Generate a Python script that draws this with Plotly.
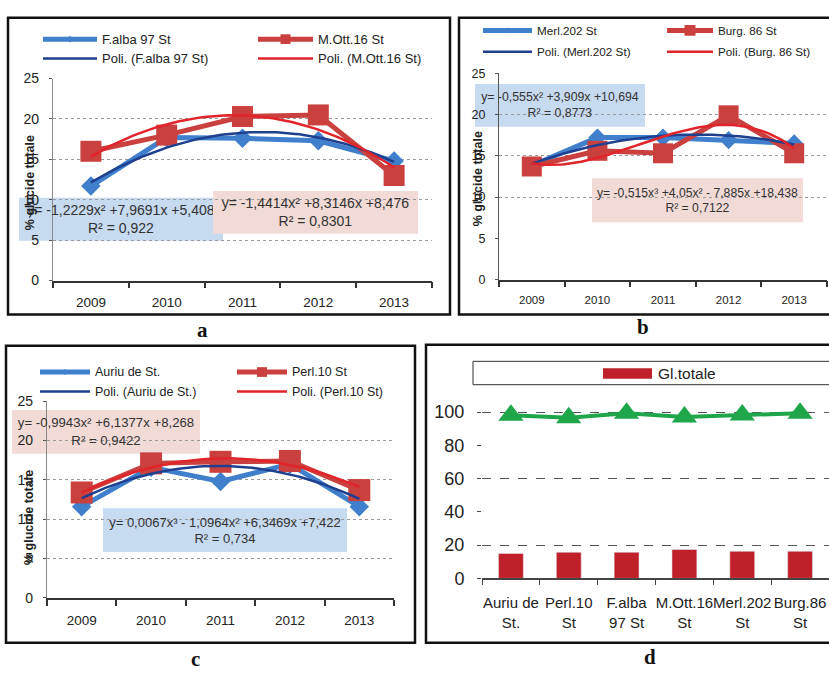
import numpy as np
import plotly.graph_objects as go

W, H = 829, 676

years = ["2009", "2010", "2011", "2012", "2013"]

# % total sugars per year
falba_97 = [11.7, 17.7, 17.6, 17.3, 14.8]
mott_16 = [16.0, 18.0, 20.3, 20.5, 13.0]
merl_202 = [13.8, 17.2, 17.2, 16.9, 16.5]
burg_86 = [13.7, 15.6, 15.3, 19.9, 15.3]
auriu = [11.6, 16.6, 14.8, 17.0, 11.6]
perl_10 = [13.4, 17.1, 17.3, 17.4, 13.7]

# polynomial trend coefficients (highest power first) and R²
fit_falba, r2_falba = [-1.2229, 7.9691, 5.408], 0.922
fit_mott, r2_mott = [-1.4414, 8.3146, 8.476], 0.8301
fit_merl, r2_merl = [-0.555, 3.909, 10.694], 0.8773
fit_burg, r2_burg = [-0.515, 4.05, -7.885, 18.438], 0.7122
fit_perl, r2_perl = [-0.9943, 6.1377, 8.268], 0.9422
fit_auriu, r2_auriu = [0.0067, -1.0964, 6.3469, 7.422], 0.734

# cultivar summary
cultivars = ["Auriu de<br>St.", "Perl.10<br>St", "F.alba<br>97 St",
             "M.Ott.16<br>St", "Merl.202<br>St", "Burg.86<br>St"]
gl_totale = [15.0, 15.7, 15.7, 17.4, 16.3, 16.3]
upper_series = [98.0, 96.5, 99.3, 97.0, 98.2, 99.3]
d_ticks = [0, 20, 40, 60, 80, 100]
line_ticks = [0, 5, 10, 15, 20, 25]

FONT = "Liberation Sans, Arial, sans-serif"
BLUE = "#3F7FCB"
RED = "#C9403F"
TBLUE = "#1F3F8F"
TRED = "#E0242A"
BOX_BLUE = "#C6DAF0"
BOX_PINK = "#F2DAD7"
GREEN = "#1FA64A"
BAR = "#C0202A"


def px(x):
    return x / W


def py(y):
    return 1 - y / H


def sup(n):
    return {3: "³", 2: "²", 1: "", 0: ""}[n]


def num(v):
    return ("%g" % v).replace(".", ",")


def equation(coefs):
    deg = len(coefs) - 1
    parts = []
    for i, c in enumerate(coefs):
        p = deg - i
        term = num(abs(c)) + ("x" if p > 0 else "") + sup(p)
        if i == 0:
            parts.append("y= " + ("-" if c < 0 else "") + term)
        else:
            parts.append((" +" if c >= 0 else " - ") + term)
    return "".join(parts)


fig = go.Figure()
shapes = []
annotations = []
xs = list(range(1, 6))
xfit = np.linspace(1, 5, 81)


def add_line_panel(n, s1, s2, f1, f2, dsize=14, ssize=20):
    xa, ya = ("x%d" % n, "y%d" % n) if n > 1 else ("x", "y")
    fig.add_trace(go.Scatter(x=xs, y=s1, mode="lines+markers", xaxis=xa, yaxis=ya,
                             line=dict(color=BLUE, width=5),
                             marker=dict(symbol="diamond", size=dsize, color=BLUE),
                             showlegend=False, cliponaxis=False))
    fig.add_trace(go.Scatter(x=xs, y=s2, mode="lines+markers", xaxis=xa, yaxis=ya,
                             line=dict(color=RED, width=5),
                             marker=dict(symbol="square", size=ssize, color=RED),
                             showlegend=False, cliponaxis=False))
    fig.add_trace(go.Scatter(x=xfit, y=np.polyval(f1, xfit), mode="lines", xaxis=xa, yaxis=ya,
                             line=dict(color=TBLUE, width=2.5), showlegend=False))
    fig.add_trace(go.Scatter(x=xfit, y=np.polyval(f2, xfit), mode="lines", xaxis=xa, yaxis=ya,
                             line=dict(color=TRED, width=2.5), showlegend=False))


def line_axes(left, right, y0, y25, tick_size, ytick_size, ylinecolor, grid_vals):
    xa = dict(domain=[px(left), px(right)], range=[0.5, 5.5], tickmode="array",
              tickvals=xs, ticktext=years, ticks="", showgrid=False, zeroline=False,
              showline=True, linecolor="#333", linewidth=1.5,
              tickfont=dict(size=tick_size, color="#222"), ticklabelstandoff=9,
              minor=dict(tickmode="array", tickvals=[0.5, 1.5, 2.5, 3.5, 4.5, 5.5],
                         ticks="outside", ticklen=6, tickcolor="#333", tickwidth=1.5,
                         showgrid=False))
    ya = dict(domain=[py(y0), py(y25)], range=[0, 25], tickmode="array",
              tickvals=line_ticks, ticks="outside", ticklen=3, tickcolor="#555",
              showgrid=False, zeroline=False, showline=True, linecolor=ylinecolor,
              linewidth=1.2, tickfont=dict(size=ytick_size, color="#222"),
              ticklabelstandoff=7,
              minor=dict(tickmode="array", tickvals=grid_vals, showgrid=True,
                         griddash="dot", gridcolor="#9A9A9A", gridwidth=1, ticks=""))
    return xa, ya


def box(x0, y0, x1, y1, color):
    shapes.append(dict(type="rect", xref="paper", yref="paper", layer="below",
                       x0=px(x0), x1=px(x1), y0=py(y1), y1=py(y0),
                       fillcolor=color, line=dict(width=0)))


def eq_text(cx, cy, w, h, coefs, r2, size):
    annotations.append(dict(xref="paper", yref="paper", x=px(cx), y=py(cy),
                            xanchor="center", yanchor="middle", width=w, height=h,
                            showarrow=False, align="center", borderpad=0,
                            text=equation(coefs) + "<br>R² = " + num(r2),
                            font=dict(size=size, color="#333", family=FONT)))


def frame(x0, y0, x1, y1):
    shapes.append(dict(type="rect", xref="paper", yref="paper", layer="below",
                       x0=px(x0), x1=px(x1), y0=py(y1), y1=py(y0),
                       fillcolor="rgba(0,0,0,0)", line=dict(color="#111", width=2.5)))


def legend_item(x0, x1, y, color, width, marker, msize, text, size):
    shapes.append(dict(type="line", xref="paper", yref="paper", layer="above",
                       x0=px(x0), x1=px(x1), y0=py(y), y1=py(y),
                       line=dict(color=color, width=width)))
    cx = (x0 + x1) / 2
    if marker == "square":
        shapes.append(dict(type="rect", xref="paper", yref="paper", layer="above",
                           x0=px(cx - msize / 2), x1=px(cx + msize / 2),
                           y0=py(y + msize / 2), y1=py(y - msize / 2),
                           fillcolor=color, line=dict(width=0)))
    elif marker == "diamond":
        r = msize / 2
        path = "M %f,%f L %f,%f L %f,%f L %f,%f Z" % (
            px(cx), py(y - r), px(cx + r), py(y), px(cx), py(y + r), px(cx - r), py(y))
        shapes.append(dict(type="path", xref="paper", yref="paper", layer="above",
                           path=path, fillcolor=color, line=dict(width=0)))
    annotations.append(dict(xref="paper", yref="paper", x=px(x1 + 3), y=py(y),
                            xanchor="left", yanchor="middle", showarrow=False,
                            text=text, font=dict(size=size, color="#222", family=FONT)))


def ytitle(x, y, size=12.5):
    annotations.append(dict(xref="paper", yref="paper", x=px(x), y=py(y),
                            xanchor="center", yanchor="middle", showarrow=False,
                            textangle=-90, text="<b>% glucide totale</b>",
                            font=dict(size=size, color="#222", family=FONT)))


def panel_letter(x, y, t):
    annotations.append(dict(xref="paper", yref="paper", x=px(x), y=py(y),
                            xanchor="center", yanchor="middle", showarrow=False,
                            text="<b>%s</b>" % t,
                            font=dict(size=21, color="#111", family="Liberation Serif, serif")))


# ---- panel a ----
add_line_panel(1, falba_97, mott_16, fit_falba, fit_mott, dsize=15, ssize=21)
xa1, ya1 = line_axes(53, 432, 280, 72.5, 13.5, 14, "#8A8A8A", [5, 10, 15, 20])
frame(8, 10, 450, 315)
box(19, 195, 223, 239, BOX_BLUE)
box(213, 188, 418, 232, BOX_PINK)
eq_text(121, 217, 184, 44, fit_falba, r2_falba, 14)
eq_text(315.5, 210, 205, 44, fit_mott, r2_mott, 14)
legend_item(43, 97, 32, BLUE, 5, "diamond", 7, "F.alba 97 St", 13)
legend_item(258, 313, 32, RED, 5, "square", 10, "M.Ott.16 St", 13)
legend_item(43, 97, 52, TBLUE, 2.5, None, 0, "Poli. (F.alba 97 St)", 13)
legend_item(258, 313, 52, TRED, 2.5, None, 0, "Poli. (M.Ott.16 St)", 13)
ytitle(30, 180)
panel_letter(202, 331, "a")

# ---- panel b ----
add_line_panel(2, merl_202, burg_86, fit_merl, fit_burg, dsize=14, ssize=20)
xa2, ya2 = line_axes(499, 827, 279, 67, 11.5, 12.5, "#555", [10, 15, 20, 25])
frame(459, 10, 845, 315)
box(475, 78, 645, 122, BOX_BLUE)
box(592, 175, 803, 220, BOX_PINK)
eq_text(560, 100, 170, 44, fit_merl, r2_merl, 12.3)
eq_text(697.5, 197.5, 211, 45, fit_burg, r2_burg, 12.2)
legend_item(483, 532, 23, BLUE, 5, "diamond", 6, "Merl.202 St", 11.7)
legend_item(667, 713, 23, RED, 5, "square", 11, "Burg. 86 St", 11.7)
legend_item(483, 532, 45, TBLUE, 2.5, None, 0, "Poli. (Merl.202 St)", 11.7)
legend_item(667, 713, 45, TRED, 2.5, None, 0, "Poli. (Burg. 86 St)", 11.7)
ytitle(478, 176)
panel_letter(643, 328, "b")

# ---- panel c ----
add_line_panel(3, auriu, perl_10, fit_auriu, fit_perl, dsize=15, ssize=22)
xa3, ya3 = line_axes(47, 394, 606, 404, 13.5, 14, "#8A8A8A", [5, 10, 15, 20, 25])
frame(6, 347, 415, 652)
box(12, 413, 200, 458, BOX_PINK)
box(103, 514, 347, 559, BOX_BLUE)
eq_text(106, 435.5, 188, 45, fit_perl, r2_perl, 13.2)
eq_text(225, 536.5, 244, 45, fit_auriu, r2_auriu, 13)
legend_item(40, 90, 374, BLUE, 5, "diamond", 6, "Auriu de St.", 12.5)
legend_item(237, 287, 374, RED, 5, "square", 10, "Perl.10 St", 12.5)
legend_item(40, 90, 394, TBLUE, 2.5, None, 0, "Poli. (Auriu de St.)", 12.5)
legend_item(237, 287, 394, TRED, 2.5, None, 0, "Poli. (Perl.10 St)", 12.5)
ytitle(29, 524)
panel_letter(195, 669, "c")

# ---- panel d ----
fig.add_trace(go.Bar(x=cultivars, y=gl_totale, name="Gl.totale", marker_color=BAR,
                     width=0.43, xaxis="x4", yaxis="y4", showlegend=False))
fig.add_trace(go.Scatter(x=cultivars, y=upper_series, mode="lines+markers",
                         line=dict(color=GREEN, width=4),
                         marker=dict(symbol="triangle-up", size=22, color=GREEN),
                         xaxis="x4", yaxis="y4", showlegend=False, cliponaxis=False))
xa4 = dict(domain=[px(482), 1.0], range=[-0.5, 5.5], type="category",
           tickson="boundaries", ticks="outside", ticklen=5, tickcolor="#444",
           showline=True, linecolor="#444", linewidth=1.5, showgrid=False,
           tickangle=0, tickfont=dict(size=15, color="#222"), ticklabelstandoff=10)
ya4 = dict(domain=[py(586), py(398)], range=[0, 110], tickmode="array", tickvals=d_ticks,
           ticks="outside", ticklen=4, tickcolor="#444", showline=False, showgrid=False,
           zeroline=False, tickfont=dict(size=18, color="#222"), ticklabelstandoff=9,
           minor=dict(tickmode="array", tickvals=[20, 60, 100], showgrid=True,
                      griddash="dash", gridcolor="#555", gridwidth=1, ticks=""))
frame(426, 346, 845, 652)
shapes.append(dict(type="rect", xref="paper", yref="paper", layer="below",
                   x0=px(473), x1=px(850), y0=py(387), y1=py(363),
                   fillcolor="white", line=dict(color="#333", width=1)))
shapes.append(dict(type="rect", xref="paper", yref="paper", layer="above",
                   x0=px(603), x1=px(652), y0=py(381), y1=py(370),
                   fillcolor=BAR, line=dict(width=0)))
annotations.append(dict(xref="paper", yref="paper", x=px(656), y=py(375),
                        xanchor="left", yanchor="middle", showarrow=False,
                        text="Gl.totale", font=dict(size=15.5, color="#222", family=FONT)))
panel_letter(650, 667, "d")

fig.update_layout(
    width=W, height=H, margin=dict(l=0, r=0, t=0, b=0),
    paper_bgcolor="white", plot_bgcolor="rgba(0,0,0,0)",
    font=dict(family=FONT, color="#222"),
    xaxis=dict(xa1, anchor="y"), yaxis=dict(ya1, anchor="x"),
    xaxis2=dict(xa2, anchor="y2"), yaxis2=dict(ya2, anchor="x2"),
    xaxis3=dict(xa3, anchor="y3"), yaxis3=dict(ya3, anchor="x3"),
    xaxis4=dict(xa4, anchor="y4"), yaxis4=dict(ya4, anchor="x4"),
    shapes=shapes, annotations=annotations, showlegend=False,
    bargap=0.5,
)

fig.write_html("out.html")
